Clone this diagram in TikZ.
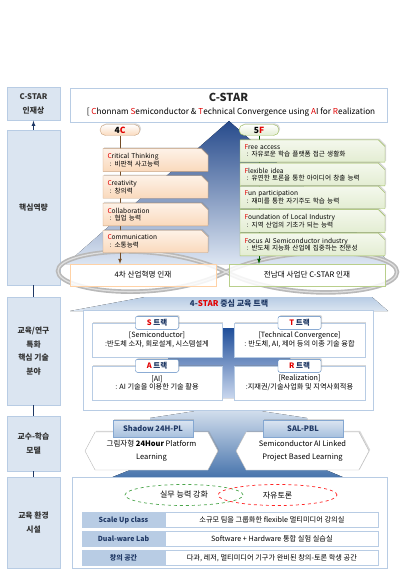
\documentclass[tikz,border=0pt]{standalone}
\usepackage{fontspec}
\setmainfont{Noto Sans CJK KR}
\usetikzlibrary{positioning,shapes.misc,shapes.symbols,shapes.geometric,shadows}

\definecolor{sidefill}{HTML}{DBE5F1}
\definecolor{sideline}{HTML}{B8CCE4}
\definecolor{navy}{HTML}{1F3864}
\definecolor{accent}{HTML}{E20000}
\definecolor{pyrtop}{HTML}{274B8C}
\definecolor{pyrbot}{HTML}{DCE5F2}
\definecolor{peach}{HTML}{FAD9BC}
\definecolor{peachline}{HTML}{C9A27E}
\definecolor{mint}{HTML}{E3EDD2}
\definecolor{mintline}{HTML}{9BBB59}
\definecolor{tabblue}{HTML}{4F81BD}
\definecolor{cellblue}{HTML}{B8CCE4}
\definecolor{crossdark}{HTML}{1F4E9A}
\definecolor{crosslight}{HTML}{C9D7EE}

\newcommand\redc[1]{\textcolor{accent}{#1}}

\tikzset{
  softshadow/.style={drop shadow={opacity=0.3,shadow xshift=1.2,shadow yshift=-1.2}},
  sidebox/.style={draw=sideline, fill=sidefill, minimum width=53, align=center,
    font=\bfseries\fontsize{7.8}{13.8}\selectfont, text=black!80},
  sidelink/.style={navy, line width=0.8},
  pill/.style={rounded corners=5.5, minimum width=40, minimum height=11, inner sep=1,
    font=\bfseries\fontsize{8.5}{8.5}\selectfont, softshadow},
  fourbox/.style={chamfered rectangle, chamfered rectangle corners=north east,
    chamfered rectangle xsep=3, draw=peachline, top color=peach!35, bottom color=peach,
    softshadow, minimum width=105, minimum height=17, text width=96, align=left,
    inner sep=1, font=\fontsize{6.6}{7.6}\selectfont},
  fivebox/.style={fourbox, draw=mintline, top color=mint!40, bottom color=mint,
    minimum width=145, text width=136},
  infbox/.style={fill=white, fill opacity=0.85, text opacity=1, minimum height=22,
    font=\fontsize{7.6}{7.6}\selectfont},
  trkbox/.style={draw=sideline, fill=white, softshadow, minimum width=130, minimum height=34,
    align=center, font=\fontsize{7.2}{8.6}\selectfont},
  trktab/.style={draw=tabblue, fill=white, rounded corners=2, minimum width=43,
    minimum height=13, inner sep=1, softshadow, text=navy, font=\bfseries\fontsize{7.5}{7.5}\selectfont},
  hexbox/.style={signal, signal to=west and east, signal pointer angle=124, draw=gray!55,
    fill=white, softshadow, minimum width=133, minimum height=38, align=center,
    font=\fontsize{7.5}{12.5}\selectfont},
  modeltab/.style={draw=tabblue!70, top color=sidefill, bottom color=tabblue!50, softshadow,
    minimum width=80, minimum height=17, font=\bfseries\fontsize{7.5}{7.5}\selectfont, text=navy},
  cellhead/.style={draw=sideline, fill=cellblue, minimum width=83, minimum height=15,
    inner sep=0, font=\bfseries\fontsize{7}{7}\selectfont, text=navy},
  cellbody/.style={draw=sideline, fill=white, minimum width=213, minimum height=15,
    inner sep=0, font=\fontsize{7.2}{7.2}\selectfont},
  ring/.style={ellipse, dashed, line width=0.7, minimum width=118, minimum height=21,
    font=\fontsize{8}{8}\selectfont}
}

\begin{document}
\begin{tikzpicture}[x=1pt,y=-1pt]
\useasboundingbox (0,0) rectangle (400,580);

\node[sidebox, minimum height=33] (vision) at (33.5,104) {C-STAR\\인재상};
\node[sidebox, minimum height=155] (core) at (33.5,207.5) {핵심역량};
\node[sidebox, minimum height=108] (field) at (33.5,351) {교육/연구\\특화\\핵심 기술\\분야};
\node[sidebox, minimum height=55] (model) at (33.5,443.5) {교수-학습\\모델};
\node[sidebox, minimum height=91] (infra) at (33.5,522.5) {교육 환경\\시설};
\draw[sidelink, -latex] (core) -- (vision);
\draw[sidelink] (core) -- (field);
\draw[sidelink] (field) -- (model);
\draw[sidelink] (model) -- (infra);

\node[draw=sideline, fill=white, minimum width=317, minimum height=34] (title) at (228.5,105) {};
\node[font=\bfseries\fontsize{11}{11}\selectfont, text=black!85] (ttl) at (228.5,97.5) {C-STAR};
\node[font=\fontsize{8.2}{8.2}\selectfont] (full) at (231,112)
  {[ \redc{C}honnam \redc{S}emiconductor \& \redc{T}echnical Convergence using \redc{A}I for \redc{R}ealization};

\fill[top color=pyrtop, bottom color=pyrbot] (229,121) -- (392,264) -- (66,264) -- cycle;
\draw[gray!55, line width=4.5] (226,272) .. controls (290,242) and (397,250) .. (397,272)
  .. controls (397,294) and (290,304) .. (226,272) .. controls (162,240) and (58,250) .. (58,271)
  .. controls (58,292) and (162,304) .. (226,272);
\draw[gray!25, line width=1.2] (226,272) .. controls (290,242) and (397,250) .. (397,272)
  .. controls (397,294) and (290,304) .. (226,272) .. controls (162,240) and (58,250) .. (58,271)
  .. controls (58,292) and (162,304) .. (226,272);

\node[infbox, draw=orange!35, minimum width=146] (ind4) at (143,275) {4차 산업혁명 인재};
\node[infbox, draw=mintline!70, minimum width=156] (cnu) at (307,275) {전남대 사업단 C-STAR 인재};

\node[pill, draw=peachline, top color=white, bottom color=peach] (c4) at (120,130) {4\redc{C}};
\node[pill, draw=mintline, top color=white, bottom color=mint] (f5) at (259,130) {5\redc{F}};
\draw[brown!60!black, line width=0.7, -latex] (c4) -- (ind4.north -| c4);
\draw[green!35!black, line width=0.7, -latex] (f5) -- (cnu.north -| f5);

\foreach \i/\yy/\en/\ko in {1/160/ritical Thinking/비판적 사고능력, 2/187/reativity/창의력,
    3/214.5/ollaboration/협업 능력, 4/241.5/ommunication/소통능력}
  \node[fourbox] (c\i) at (155.5,\yy) {\redc{C}\en\\\hspace*{2pt}: \ko};

\foreach \i/\yy/\en/\ko in {1/151/ree access/자유로운 학습 플랫폼 접근 생활화,
    2/174.5/lexible idea/유연한 토론을 통한 아이디어 창출 능력,
    3/197.5/un participation/재미를 통한 자기주도 학습 능력,
    4/221/oundation of Local Industry/지역 산업의 기초가 되는 능력,
    5/244.5/ocus AI Semiconductor industry/반도체 지능화 산업에 집중하는 전문성}
  \node[fivebox] (f\i) at (312.5,\yy) {\redc{F}\en\\\hspace*{2pt}: \ko};

\fill[top color=sidefill, bottom color=tabblue!80!navy] (110,478) -- (150,462) -- (150,418)
  -- (228,406) -- (307,418) -- (307,462) -- (345,478) -- cycle;

\fill[top color=sideline, bottom color=sidefill] (70,311) -- (145,297) -- (372,297) -- (388,311) -- cycle;
\node[font=\bfseries\fontsize{8}{8}\selectfont, text=navy] (star) at (229,304) {4-\redc{STAR} 중심 교육 트랙};
\node[draw=sideline, fill=white, minimum width=290, minimum height=100] (track) at (228,360.5) {};
\fill[top color=crossdark, bottom color=crosslight] (222,328) -- (236,328) -- (236,350) -- (290,350)
  -- (290,369) -- (236,369) -- (236,398) -- (222,398) -- (222,369) -- (168,369) -- (168,350)
  -- (222,350) -- cycle;

\node[trkbox] (strk) at (157,340) {[Semiconductor]\\:반도체 소자, 회로설계, 시스템설계};
\node[trkbox, minimum width=131] (ttrk) at (299.5,340) {[Technical Convergence]\\: 반도체, AI, 제어 등의 이종 기술 융합};
\node[trkbox] (atrk) at (157,383) {[AI]\\: AI 기술을 이용한 기술 활용};
\node[trkbox, minimum width=131] (rtrk) at (299.5,383) {[Realization]\\:지재권/기술사업화 및 지역사회적용};
\node[trktab] (stab) at (strk.north) {\redc{S} 트랙};
\node[trktab] (ttab) at (ttrk.north) {\redc{T} 트랙};
\node[trktab] (atab) at (atrk.north) {\redc{A} 트랙};
\node[trktab] (rtab) at (rtrk.north) {\redc{R} 트랙};

\node[hexbox] (shadow) at (151.5,451) {그림자형 \textbf{24Hour} Platform\\Learning};
\node[hexbox] (salpbl) at (302.5,451) {Semiconductor AI Linked\\Project Based Learning};
\node[modeltab] (shtab) at (153,428.5) {Shadow 24H-PL};
\node[modeltab] (saltab) at (303,428.5) {SAL-PBL};

\node[draw=sideline, fill=white, minimum width=315, minimum height=91] (env) at (229.5,522.5) {};
\node[ring, draw=green!50!black!70] (prac) at (184,495) {실무 능력 강화};
\node[ring, draw=red!85, minimum width=119] (talk) at (277.5,495) {자유토론};

\node[cellhead] (h1) at (123.5,520) {Scale Up class};
\node[cellbody, right=0pt of h1] (b1) {소규모 팀을 그룹화한 flexible 멀티미디어 강의실};
\node[cellhead, below=3.5pt of h1] (h2) {Dual-ware Lab};
\node[cellbody, right=0pt of h2] (b2) {Software + Hardware 통합 실험 실습실};
\node[cellhead, below=3.5pt of h2] (h3) {창의 공간};
\node[cellbody, right=0pt of h3] (b3) {다과, 레저, 멀티미디어 기구가 완비된 창의-토론 학생 공간};
\end{tikzpicture}
\end{document}
